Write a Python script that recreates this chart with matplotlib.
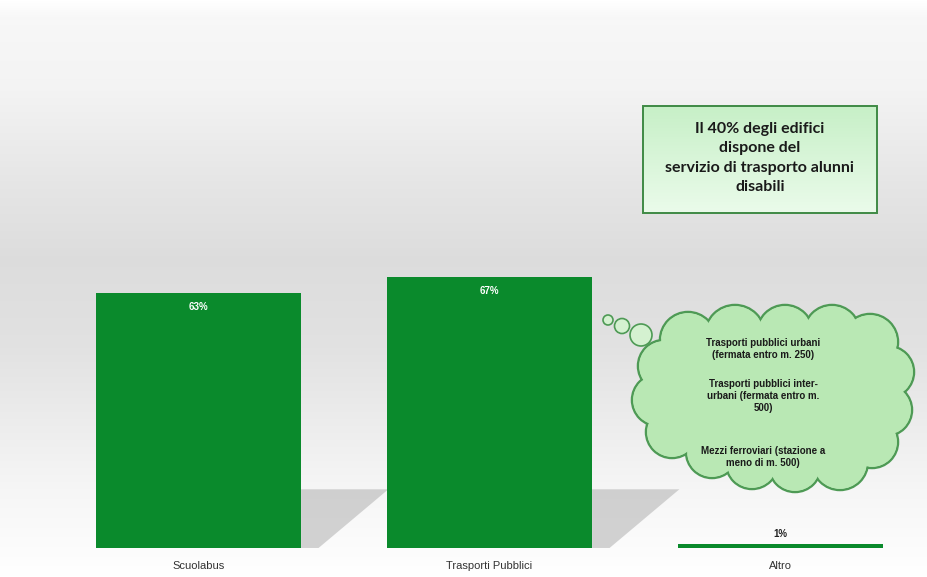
import numpy as np
import matplotlib
matplotlib.use("Agg")
import matplotlib.pyplot as plt
from matplotlib.patches import Polygon, Circle, FancyBboxPatch, Ellipse

categories = ["Scuolabus", "Trasporti Pubblici", "Altro"]
values = [63, 67, 1]
value_labels = ["63%", "67%", "1%"]
box_text = "Il 40% degli edifici\ndispone del\nservizio di trasporto alunni\ndisabili"
cloud_lines = [
    "Trasporti pubblici urbani\n(fermata entro m. 250)",
    "Trasporti pubblici inter-\nurbani (fermata entro m.\n500)",
    "Mezzi ferroviari (stazione a\nmeno di m. 500)",
]

W, H = 927, 577
fig = plt.figure(figsize=(W / 100, H / 100), dpi=100)

# background gradient
bg = fig.add_axes([0, 0, 1, 1], zorder=0)
ys = np.linspace(0, 1, 300)  # 0 = top
stops_y = [0.0, 0.03, 0.15, 0.32, 0.45, 0.6, 0.85, 1.0]
stops_v = [1.0, 0.97, 0.955, 0.90, 0.865, 0.885, 0.965, 1.0]
vals = np.interp(ys, stops_y, stops_v)
img = np.repeat(vals[:, None], 2, axis=1)
bg.imshow(np.dstack([img, img, img]), aspect="auto", extent=[0, 1, 0, 1], origin="upper")
bg.set_axis_off()

# main axes spanning the whole figure
ax = fig.add_axes([0, 0, 1, 1], zorder=1)
ax.patch.set_alpha(0)
px_per_unit_x = 291.0
px_per_pct = 4.05
x0px, base_px = 198.5, 548
ax.set_xlim(-x0px / px_per_unit_x, (W - x0px) / px_per_unit_x)
ax.set_ylim(-(H - base_px) / px_per_pct, base_px / px_per_pct)
ax.set_axis_off()

x = np.arange(len(categories))
bw = 0.705
green = "#0a8a2c"

# perspective shadows behind bars
for i, v in enumerate(values):
    if v < 20:
        continue
    right = x[i] + bw / 2
    top = 14.5
    shadow = Polygon([(right, top), (right + 0.30, top), (right + 0.06, 0), (right, 0)],
                     closed=True, facecolor="#b0b0b0", edgecolor="none", alpha=0.55, zorder=1)
    ax.add_patch(shadow)

bars = ax.bar(x, values, width=bw, color=green, edgecolor="none", zorder=2)

for i, (b, v) in enumerate(zip(bars, values)):
    if v > 10:
        ax.text(b.get_x() + b.get_width() / 2, v - 3.5, value_labels[i], ha="center", va="center",
                color="white", fontsize=7, fontweight="bold", family="Liberation Sans", zorder=3)
    else:
        ax.text(b.get_x() + b.get_width() / 2, v + 2.5, value_labels[i], ha="center", va="center",
                color="#222222", fontsize=7, fontweight="bold", family="Liberation Sans", zorder=3)
    ax.text(x[i], -4.4, categories[i], ha="center", va="center", color="#333333",
            fontsize=8, family="Liberation Sans", zorder=3)

# overlay in pixel coordinates
ov = fig.add_axes([0, 0, 1, 1], zorder=2)
ov.patch.set_alpha(0)
ov.set_xlim(0, W)
ov.set_ylim(H, 0)
ov.set_axis_off()

# text box with gradient
box = FancyBboxPatch((643, 106), 234, 107, boxstyle="square,pad=0",
                     facecolor="#c9efc6", edgecolor="none", zorder=3)
ov.add_patch(box)
grad = np.linspace(0.0, 1.0, 100)[:, None]
c_top = np.array([0.78, 0.94, 0.78])
c_bot = np.array([0.92, 0.985, 0.92])
gimg = c_top[None, None, :] * (1 - grad[:, :, None]) + c_bot[None, None, :] * grad[:, :, None]
gimg = np.repeat(gimg, 2, axis=1)
im = ov.imshow(gimg, extent=[643, 877, 213, 106], aspect="auto", zorder=3.5)
im.set_clip_path(box)
ov.add_patch(FancyBboxPatch((643, 106), 234, 107, boxstyle="square,pad=0",
                            facecolor="none", edgecolor="#3f8a45", linewidth=1.4, zorder=4))
ov.text(760, 158, box_text, ha="center", va="center", fontsize=11.5, fontweight="bold",
        family="Lato", color="#1a1a1a", linespacing=1.5, zorder=5)

# cloud
cloud_fill = "#b9e8b4"
cloud_edge = "#4e9a55"
lobes = [(688, 340, 28), (735, 335, 30), (785, 333, 28), (832, 333, 28), (870, 342, 28),
         (888, 372, 26), (886, 410, 26), (872, 442, 26),
         (840, 462, 28), (795, 466, 26), (752, 463, 26), (712, 452, 26),
         (672, 432, 26), (658, 400, 26), (664, 366, 26)]
for cx, cy, r in lobes:
    ov.add_patch(Circle((cx, cy), r, facecolor=cloud_fill, edgecolor=cloud_edge, lw=1.8, zorder=3))
for cx, cy, r in lobes:
    ov.add_patch(Circle((cx, cy), r - 1.1, facecolor=cloud_fill, edgecolor="none", zorder=3.2))
ov.add_patch(Ellipse((775, 400), 220, 125, facecolor=cloud_fill, edgecolor="none", zorder=3.3))
for cx, cy, r in [(608, 320, 5), (622, 326, 7.5), (641, 335, 11)]:
    ov.add_patch(Circle((cx, cy), r, facecolor="#d4f1d0", edgecolor=cloud_edge, lw=1.2, zorder=3))

ov.text(763, 349, cloud_lines[0], ha="center", va="center", fontsize=7, fontweight="bold",
        family="Liberation Sans", color="#1a1a1a", linespacing=1.3, zorder=5)
ov.text(763, 396, cloud_lines[1], ha="center", va="center", fontsize=7, fontweight="bold",
        family="Liberation Sans", color="#1a1a1a", linespacing=1.3, zorder=5)
ov.text(763, 457, cloud_lines[2], ha="center", va="center", fontsize=7, fontweight="bold",
        family="Liberation Sans", color="#1a1a1a", linespacing=1.3, zorder=5)

fig.savefig("out.png", dpi=100)
